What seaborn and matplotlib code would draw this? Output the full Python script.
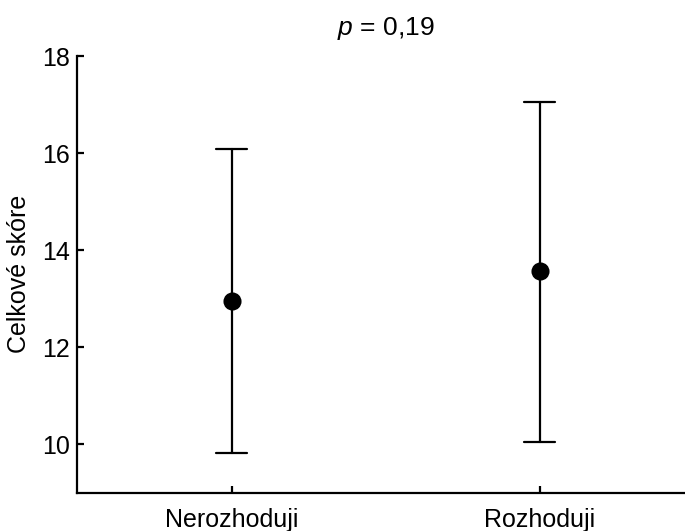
import pandas as pd
import numpy as np
import matplotlib
matplotlib.use('Agg')
import matplotlib.pyplot as plt
import seaborn as sns

# values
categories = ['Nerozhoduji', 'Rozhoduji']
means = [12.95, 13.56]
lower = [9.82, 10.05]
upper = [16.08, 17.06]

# long table: each group holds lower / mean / upper, so median = mean
# and (min, max) = the error bar ends
d_score = pd.DataFrame({
    'group': np.repeat(categories, 3),
    'score': np.ravel(np.column_stack([lower, means, upper])),
})

sns.set_style('ticks')
plt.rcParams['font.family'] = ['Liberation Sans', 'DejaVu Sans']
plt.rcParams['mathtext.fontset'] = 'custom'
plt.rcParams['mathtext.rm'] = 'Liberation Sans'
plt.rcParams['mathtext.it'] = 'Liberation Sans:italic'
plt.rcParams['text.color'] = 'black'
plt.rcParams['axes.labelcolor'] = 'black'

text_size = 18

fig = plt.figure(figsize = (6.85, 5.31), dpi = 100)
ax = fig.add_axes([0.1129, 0.0721, 0.9003, 0.8224])
sns.pointplot(data = d_score, x = 'group', y = 'score', order = categories,
              estimator = 'median', errorbar = lambda v: (v.min(), v.max()),
              color = 'black', markers = 'o', linestyle = 'none',
              capsize = 0.1, err_kws = {'linewidth': 1.6},
              markersize = 11, ax = ax)

ax.set_xlim(-0.5, 1.5)
ax.set_ylim(9, 18)
ax.set_yticks(np.arange(10, 19, 2))
ax.set_xlabel('')
ax.set_ylabel('Celkové skóre', size = text_size, labelpad = 8, color = 'black')
ax.set_title('$p$ = 0,19', size = 19, pad = 15, color = 'black')

for side in ['top', 'right']:
    ax.spines[side].set_visible(False)
for side in ['left', 'bottom']:
    ax.spines[side].set_linewidth(1.6)
    ax.spines[side].set_color('black')
ax.tick_params(axis = 'both', direction = 'in', length = 5, width = 1.6,
               colors = 'black', labelsize = text_size)
ax.tick_params(axis = 'y', pad = 5.5)
ax.tick_params(axis = 'x', pad = 11)

fig.savefig('out.png', dpi = 100)
